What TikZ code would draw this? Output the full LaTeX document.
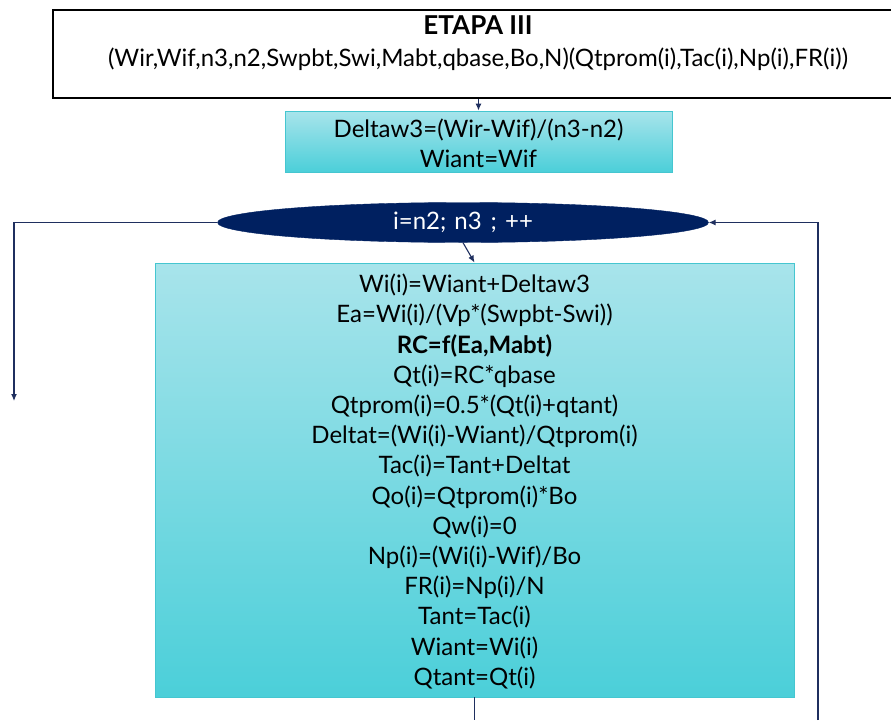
\documentclass[tikz,border=0pt]{standalone}
\usepackage{fontspec}
\setmainfont{Lato}
\usetikzlibrary{shapes.geometric,arrows.meta}
\definecolor{navy}{HTML}{002060}
\definecolor{lnk}{HTML}{1F2F5F}
\definecolor{cyantop}{HTML}{A8E4EB}
\definecolor{cyanbot}{HTML}{4BCFD9}
\definecolor{cyanedge}{HTML}{45C6D0}
\tikzset{
  x=1pt, y=-1pt,
  topbox/.style={draw=black, line width=1.8pt, rectangle, minimum width=850pt, minimum height=88pt, inner sep=0pt},
  procbox/.style={draw=cyanedge, line width=0.9pt, rectangle, top color=cyantop, bottom color=cyanbot, inner sep=0pt, align=center},
  loopnode/.style={ellipse, fill=navy, draw=navy, inner sep=0pt, text=white},
  link/.style={draw=lnk, line width=1.1pt},
  arr/.style={link, -{Latex[length=7pt,width=6pt]}},
  txt/.style={font=\fontsize{24}{30.2}\selectfont, align=center, inner sep=0pt},
}
\begin{document}
\begin{tikzpicture}
\useasboundingbox (0,0) rectangle (891,720);
\node[topbox] (top) at (478,54) {};
\node[txt, font=\fontsize{24}{32}\selectfont] (toptext) at (478,43) {{\fontsize{26}{32}\selectfont\textbf{ETAPA III}}\\(Wir,Wif,n3,n2,Swpbt,Swi,Mabt,qbase,Bo,N)(Qtprom(i),Tac(i),Np(i),FR(i))};
\node[procbox, minimum width=387pt, minimum height=61pt] (delta) at (478.5,141.5) {};
\node[txt] (deltatext) at (478.5,143) {Deltaw3=(Wir-Wif)/(n3-n2)\\Wiant=Wif};
\node[loopnode, minimum width=491pt, minimum height=40pt] (loop) at (463,222.5) {};
\node[txt, text=white] (looptext) at (463,222.5) {i=n2;\hspace{0.08em} n3\hspace{0.12em} ;\hspace{0.08em} ++};
\node[procbox, minimum width=639pt, minimum height=434pt] (big) at (474.5,480) {};
\node[txt] (bigtext) at (474.5,481.5) {Wi(i)=Wiant+Deltaw3\\
Ea=Wi(i)/(Vp*(Swpbt-Swi))\\
\textbf{RC=f(Ea,Mabt)}\\
Qt(i)=RC*qbase\\
Qtprom(i)=0.5*(Qt(i)+qtant)\\
Deltat=(Wi(i)-Wiant)/Qtprom(i)\\
Tac(i)=Tant+Deltat\\
Qo(i)=Qtprom(i)*Bo\\
Qw(i)=0\\
Np(i)=(Wi(i)-Wif)/Bo\\
FR(i)=Np(i)/N\\
Tant=Tac(i)\\
Wiant=Wi(i)\\
Qtant=Qt(i)};
\coordinate (leftend) at (14,401);
\coordinate (rightstart) at (818,720);
\coordinate (botend) at (474.5,720);
\draw[arr] (delta.north |- top.south) -- (delta.north);
\draw[arr] (loop.south) -- (big.north);
\draw[arr] (loop.west) -| (leftend);
\draw[arr] (rightstart) |- (loop.east);
\draw[link] (big.south) -- (botend);
\end{tikzpicture}
\end{document}
